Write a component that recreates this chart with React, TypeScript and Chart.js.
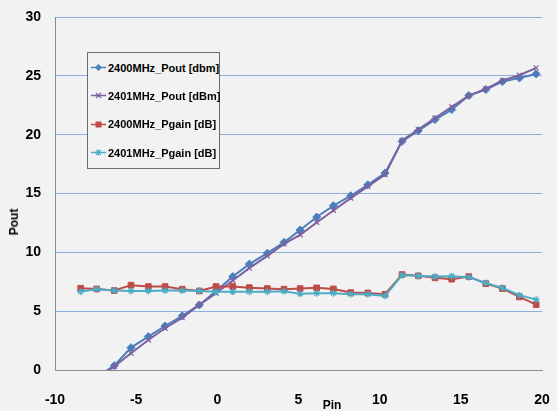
import React, { useEffect, useRef } from "react";
import { Chart, registerables } from "chart.js";

Chart.register(...registerables);

const pin = [-8.42, -7.43, -6.35, -5.32, -4.25, -3.22, -2.16, -1.11, -0.08, 0.95, 1.97, 3.08, 4.11, 5.1, 6.12, 7.15, 8.22, 9.27, 10.33, 11.38, 12.38, 13.41, 14.44, 15.49, 16.54, 17.56, 18.61, 19.64];
const pout2400 = [null, -0.6, 0.37, 1.9, 2.84, 3.74, 4.6, 5.53, 6.72, 7.94, 9.0, 9.93, 10.85, 11.9, 13.0, 13.96, 14.81, 15.74, 16.74, 19.43, 20.34, 21.28, 22.13, 23.32, 23.83, 24.51, 24.82, 25.16];
const pout2401 = [null, -0.8, 0.3, 1.42, 2.55, 3.55, 4.45, 5.53, 6.53, 7.6, 8.66, 9.7, 10.72, 11.49, 12.54, 13.56, 14.61, 15.6, 16.6, 19.51, 20.43, 21.42, 22.36, 23.32, 23.89, 24.6, 25.05, 25.68];
const pgain2400 = [6.95, 6.89, 6.75, 7.21, 7.09, 7.09, 6.87, 6.72, 7.09, 7.09, 7.0, 6.92, 6.87, 6.92, 6.98, 6.89, 6.58, 6.55, 6.44, 8.11, 8.0, 7.83, 7.72, 7.94, 7.34, 6.92, 6.21, 5.56];
const pgain2401 = [6.66, 6.87, 6.75, 6.72, 6.72, 6.75, 6.75, 6.72, 6.64, 6.64, 6.66, 6.66, 6.69, 6.47, 6.53, 6.53, 6.44, 6.44, 6.3, 8.06, 8.0, 7.94, 7.97, 7.89, 7.4, 6.98, 6.36, 5.98];

const seriesNames = ["2400MHz_Pout [dbm]", "2401MHz_Pout [dBm]", "2400MHz_Pgain [dB]", "2401MHz_Pgain [dB]"];
const xTickValues = [-10, -5, 0, 5, 10, 15, 20];
const yTickValues = [0, 5, 10, 15, 20, 25, 30];

const COLORS = ["#4A7EBB", "#7D60A0", "#BE4B48", "#4BACC6"];
const STYLES = ["rectRot", "crossRot", "rect", "star"];

const toPoints = (ys: (number | null)[]) => pin.map((x, i) => ({ x, y: ys[i] }));

function Marker({ kind, color }: { kind: number; color: string }) {
  if (kind === 0) return <polygon points="7.5,1 11,4.5 7.5,8 4,4.5" fill={color} />;
  if (kind === 1)
    return (
      <g stroke={color} strokeWidth={1.2}>
        <line x1={5} y1={2} x2={10} y2={7} />
        <line x1={10} y1={2} x2={5} y2={7} />
      </g>
    );
  if (kind === 2) return <rect x={4.5} y={1.5} width={6} height={6} fill={color} />;
  return (
    <g stroke={color} strokeWidth={1.1}>
      <line x1={5} y1={2} x2={10} y2={7} />
      <line x1={10} y1={2} x2={5} y2={7} />
      <line x1={7.5} y1={1.5} x2={7.5} y2={7.5} />
    </g>
  );
}

export default function App() {
  const ref = useRef<HTMLCanvasElement | null>(null);

  useEffect(() => {
    document.body.style.margin = "0";
    const canvas = ref.current;
    if (!canvas) return;
    const datasetsY = [pout2400, pout2401, pgain2400, pgain2401];
    const chart = new Chart(canvas, {
      type: "line",
      data: {
        datasets: datasetsY.map((ys, i) => ({
          label: seriesNames[i],
          data: toPoints(ys),
          borderColor: COLORS[i],
          backgroundColor: COLORS[i],
          borderWidth: 2,
          pointStyle: STYLES[i] as any,
          pointRadius: i === 2 ? 4 : i === 0 ? 4 : 3.5,
          pointBorderWidth: i === 1 || i === 3 ? 1.2 : 1,
          pointBorderColor: COLORS[i],
          pointBackgroundColor: COLORS[i],
          tension: 0,
          order: 4 - i,
        })),
      },
      options: {
        responsive: false,
        animation: false,
        events: [],
        layout: { padding: { top: 17, right: 15, left: 0, bottom: 0 } },
        plugins: { legend: { display: false }, tooltip: { enabled: false } },
        scales: {
          x: {
            type: "linear",
            min: -10,
            max: 20,
            afterBuildTicks: (s: any) => {
              s.ticks = xTickValues.map((v) => ({ value: v }));
            },
            afterFit: (s: any) => {
              s.height = 41;
              s.paddingLeft = 0;
              s.paddingRight = 0;
            },
            ticks: {
              color: "#000",
              font: { family: "'Liberation Sans', Arial, sans-serif", size: 14, weight: "bold" },
              padding: 22,
              maxRotation: 0,
            },
            grid: { display: false, drawTicks: false },
            border: { display: true, color: "#8a8a8a", width: 1 },
          },
          y: {
            min: 0,
            max: 30,
            afterBuildTicks: (s: any) => {
              s.ticks = yTickValues.map((v) => ({ value: v }));
            },
            afterFit: (s: any) => {
              s.width = 55;
              s.paddingTop = 0;
              s.paddingBottom = 0;
            },
            ticks: {
              color: "#000",
              font: { family: "'Liberation Sans', Arial, sans-serif", size: 14, weight: "bold" },
              padding: 14,
            },
            grid: {
              drawTicks: false,
              color: (c: any) => (c.tick && c.tick.value === 0 ? "#8a8a8a" : "#8AB0E0"),
              lineWidth: 1,
            },
            border: { display: true, color: "#8a8a8a", width: 1 },
          },
        },
      },
    });
    return () => chart.destroy();
  }, []);

  const legendTops = [14.7, 42.5, 71, 99.6];

  return (
    <div style={{ position: "relative", width: 557, height: 411, background: "#F2F2F2", overflow: "hidden" }}>
      <canvas ref={ref} width={557} height={411} style={{ display: "block" }} />
      <div
        style={{
          position: "absolute",
          left: 14,
          top: 222,
          transform: "translate(-50%, -50%) rotate(-90deg)",
          fontFamily: "'Liberation Sans', Arial, sans-serif",
          fontWeight: "bold",
          fontSize: 12,
          color: "#000",
          whiteSpace: "nowrap",
        }}
      >
        Pout
      </div>
      <div
        style={{
          position: "absolute",
          left: 332,
          top: 405,
          transform: "translate(-50%, -50%)",
          fontFamily: "'Liberation Sans', Arial, sans-serif",
          fontWeight: "bold",
          fontSize: 12,
          color: "#000",
          whiteSpace: "nowrap",
        }}
      >
        Pin
      </div>
      <div
        style={{
          position: "absolute",
          left: 87,
          top: 52,
          width: 131,
          height: 115,
          border: "1px solid #6b6b6b",
          background: "#F2F2F2",
          fontFamily: "'Liberation Sans', Arial, sans-serif",
          fontWeight: "bold",
          fontSize: 11,
          color: "#000",
        }}
      >
        {seriesNames.map((name, i) => (
          <div
            key={name}
            style={{
              position: "absolute",
              left: 3,
              top: legendTops[i],
              transform: "translateY(-50%)",
              display: "flex",
              alignItems: "center",
              whiteSpace: "nowrap",
            }}
          >
            <svg width={16} height={9} style={{ marginRight: 1 }}>
              <line x1={0} y1={4.5} x2={15} y2={4.5} stroke={COLORS[i]} strokeWidth={1.5} />
              <Marker kind={i} color={COLORS[i]} />
            </svg>
            <span>{name}</span>
          </div>
        ))}
      </div>
    </div>
  );
}
